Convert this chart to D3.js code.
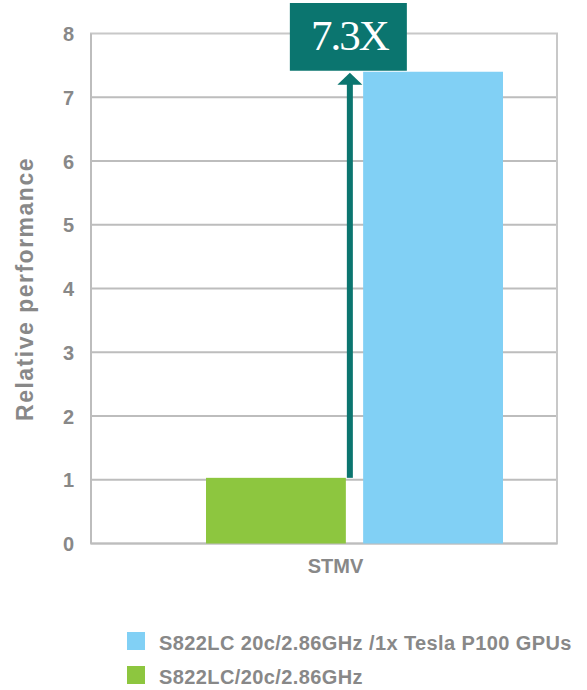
<!DOCTYPE html>
<html>
<head>
<meta charset="utf-8">
<script src="https://cdn.jsdelivr.net/npm/d3@7"></script>
<style>
html,body{margin:0;padding:0;background:#fff;}
svg{display:block;}
</style>
</head>
<body>
<svg id="chart" width="587" height="690"></svg>
<script>
const categories = ["STMV"];
const seriesNames = ["S822LC/20c/2.86GHz", "S822LC 20c/2.86GHz /1x Tesla P100 GPUs"];
const seriesValues = [[1.03], [7.4]];
const yTicks = [0, 1, 2, 3, 4, 5, 6, 7, 8];
const speedupLabel = "7.3X";
const legendOrder = [1, 0];
const colors = ["#8dc63f", "#81d0f5"];

(function () {
const svg = d3.select("#chart");
const gridColor = "#bdbdbd";
const textColor = "#888888";
const sans = "Liberation Sans, Arial, sans-serif";
const pLeft = 91, pRight = 557, pTop = 33.5, pBottom = 543.5;

const y = d3.scaleLinear().domain([0, 8]).range([pBottom, pTop]);
const x0 = d3.scaleBand().domain(categories).range([206, 503]).padding(0);
const x1 = d3.scaleBand().domain(d3.range(seriesNames.length)).range([0, x0.bandwidth()]).paddingInner(0.11).paddingOuter(0);

// gridlines
svg.append("g").selectAll("line").data(yTicks.filter(d => d > 0 && d < 8)).join("line")
  .attr("x1", pLeft).attr("x2", pRight)
  .attr("y1", d => y(d)).attr("y2", d => y(d))
  .attr("stroke", gridColor).attr("stroke-width", 2);

// frame
svg.append("rect").attr("x", pLeft).attr("y", y(8)).attr("width", pRight - pLeft).attr("height", y(0) - y(8))
  .attr("fill", "none").attr("stroke", "#c8c8c8").attr("stroke-width", 2);
svg.append("line").attr("x1", pLeft).attr("x2", pRight).attr("y1", y(0)).attr("y2", y(0))
  .attr("stroke", gridColor).attr("stroke-width", 2);
svg.append("line").attr("x1", pLeft).attr("x2", pLeft).attr("y1", y(8)).attr("y2", y(0))
  .attr("stroke", gridColor).attr("stroke-width", 2);

// y tick labels
const yAxis = d3.axisLeft(y).tickValues(yTicks).tickSize(0).tickPadding(0).tickFormat(d3.format("d"));
const ga = svg.append("g").attr("transform", `translate(74,0)`).call(yAxis);
ga.select(".domain").remove();
ga.selectAll("text").attr("fill", textColor).attr("font-family", sans)
  .attr("font-weight", "bold").attr("font-size", 20).attr("dy", "0.36em");

// y title
svg.append("text").attr("transform", `translate(33,289) rotate(-90)`).attr("text-anchor", "middle")
  .attr("fill", textColor).attr("font-family", sans).attr("letter-spacing", 1.5)
  .attr("font-weight", "bold").attr("font-size", 23).text("Relative performance");

// bars
const groups = svg.append("g").selectAll("g").data(categories).join("g")
  .attr("transform", d => `translate(${x0(d)},0)`);
groups.selectAll("rect").data((d, ci) => seriesValues.map((vals, si) => ({si, v: vals[ci]}))).join("rect")
  .attr("x", d => x1(d.si)).attr("width", x1.bandwidth())
  .attr("y", d => y(d.v)).attr("height", d => y(0) - y(d.v))
  .attr("fill", d => colors[d.si]);

// category label
svg.append("g").selectAll("text").data(categories).join("text")
  .attr("x", d => x0(d) + x0.bandwidth() / 2 - 19).attr("y", 573)
  .attr("text-anchor", "middle").attr("fill", textColor)
  .attr("font-family", sans).attr("font-weight", "bold").attr("font-size", 20)
  .text(d => d);

// arrow
const teal = "#0b756f";
const ax = x0(categories[0]) + x1(0) + x1.bandwidth() + 4;
const yLow = y(seriesValues[0][0]), yHigh = y(seriesValues[1][0]);
svg.append("rect").attr("x", ax - 3).attr("width", 6).attr("y", yHigh + 10).attr("height", yLow - yHigh - 10).attr("fill", teal);
svg.append("path").attr("d", `M${ax - 12.5},${yHigh + 13} L${ax},${yHigh + 1} L${ax + 12.5},${yHigh + 13} Z`).attr("fill", teal);

// label box
svg.append("rect").attr("x", ax - 60).attr("y", 3).attr("width", 117).attr("height", yHigh - 1 - 3).attr("fill", teal);
svg.append("text").attr("x", ax - 0.5).attr("y", 50).attr("text-anchor", "middle").attr("fill", "#ffffff")
  .attr("font-family", "Liberation Serif, Times New Roman, serif").attr("font-size", 43).attr("letter-spacing", -2)
  .text(speedupLabel);

// legend
const lg = svg.append("g").selectAll("g").data(legendOrder).join("g")
  .attr("transform", (d, i) => `translate(127,${632 + i * 34})`);
lg.append("rect").attr("width", 18).attr("height", 18).attr("fill", d => colors[d]);
lg.append("text").attr("x", 32).attr("y", 18).attr("fill", textColor)
  .attr("font-family", sans).attr("font-weight", "bold").attr("font-size", 20).attr("letter-spacing", 0.4)
  .text(d => seriesNames[d]);
})();
</script>
</body>
</html>
